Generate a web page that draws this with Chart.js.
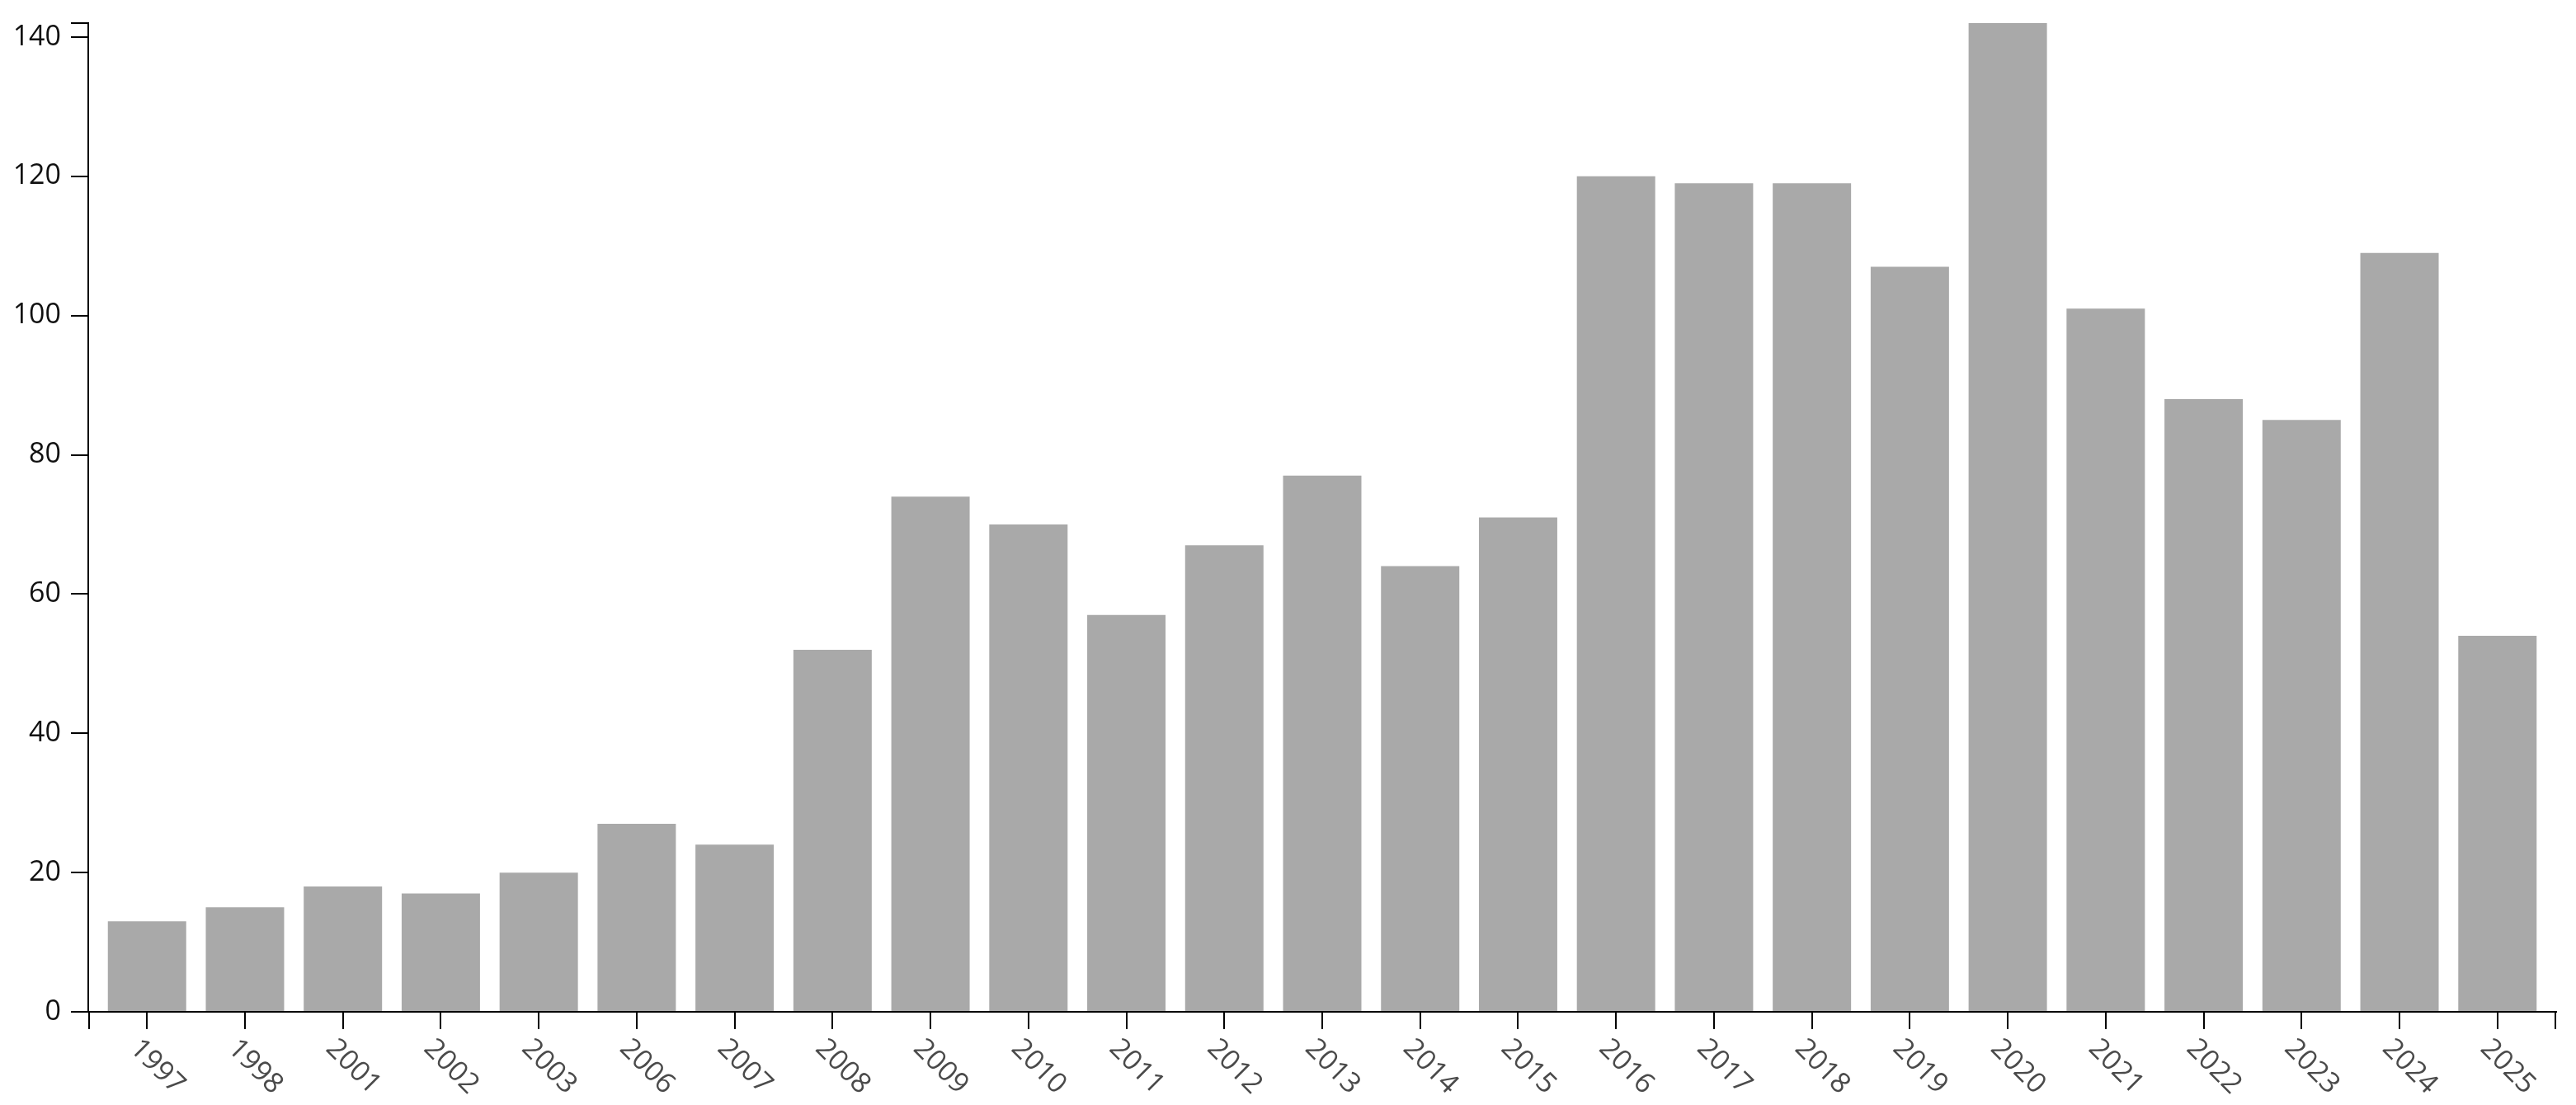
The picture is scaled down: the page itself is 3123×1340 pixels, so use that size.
<!DOCTYPE html>
<html>
<head>
<meta charset="utf-8">
<script src="https://cdn.jsdelivr.net/npm/chart.js@4.4.1/dist/chart.umd.min.js"></script>
<style>
    html, body { margin: 0; padding: 0; background: #fff; }
    #wrap { width: 3123px; height: 1340px; }
</style>
</head>
<body>
<div id="wrap"><canvas id="yearChart" width="3123" height="1340"></canvas></div>
<script>
const years = ['1997', '1998', '2001', '2002', '2003', '2006', '2007', '2008', '2009', '2010',
    '2011', '2012', '2013', '2014', '2015', '2016', '2017', '2018', '2019', '2020',
    '2021', '2022', '2023', '2024', '2025'];
const counts = [13, 15, 18, 17, 20, 27, 24, 52, 74, 70,
    57, 67, 77, 64, 71, 120, 119, 119, 107, 142,
    101, 88, 85, 109, 54];
const yTicks = [0, 20, 40, 60, 80, 100, 120, 140];
const yMax = 142;

const FONT = '"Open Sans", "Noto Sans", sans-serif';

// rotated year labels (+45deg, reading down-right) and the outer ticks of the x axis
const yearLabels = {
    id: 'yearLabels',
    afterDraw(chart) {
        const x = chart.scales.x;
        const ctx = chart.ctx;
        const base = x.top;
        ctx.save();
        ctx.strokeStyle = '#000';
        ctx.lineWidth = 2;
        ctx.beginPath();
        ctx.moveTo(x.left + 1, base);
        ctx.lineTo(x.left + 1, base + 21);
        ctx.moveTo(x.right - 1, base);
        ctx.lineTo(x.right - 1, base + 21);
        ctx.stroke();

        ctx.font = '34px ' + FONT;
        ctx.fillStyle = '#4a4a4a';
        ctx.textAlign = 'left';
        ctx.textBaseline = 'alphabetic';
        years.forEach((label, i) => {
            const px = x.getPixelForValue(i);
            ctx.save();
            ctx.translate(px - 22, base + 46);
            ctx.rotate(Math.PI / 4);
            ctx.fillText(label, 0, 0);
            ctx.restore();
        });
        ctx.restore();
    }
};

const ctx = document.getElementById('yearChart').getContext('2d');
const yearChart = new Chart(ctx, {
    type: 'bar',
    data: {
        datasets: [{
            data: counts.map((v, i) => ({ x: i, y: v })),
            backgroundColor: '#a9a9a9',
            borderWidth: 0,
            barPercentage: 0.8,
            categoryPercentage: 1.0
        }]
    },
    options: {
        responsive: false,
        animation: false,
        layout: { padding: { top: 28, right: 24, left: 0, bottom: 0 } },
        plugins: {
            legend: { display: false },
            tooltip: { enabled: false }
        },
        scales: {
            x: {
                type: 'linear',
                offset: false,
                min: -0.6,
                max: years.length - 0.4,
                afterFit: function(scale) { scale.height = 113; },
                border: { display: true, color: '#000', width: 2 },
                grid: {
                    display: true,
                    offset: false,
                    drawOnChartArea: false,
                    drawTicks: true,
                    tickLength: 21,
                    color: '#000',
                    lineWidth: 2
                },
                ticks: {
                    stepSize: 1,
                    includeBounds: false,
                    autoSkip: false,
                    maxRotation: 0,
                    minRotation: 0,
                    color: 'rgba(0,0,0,0)',
                    font: { size: 34, family: FONT },
                    callback: function(value) {
                        return years[value] !== undefined ? years[value] : '';
                    }
                }
            },
            y: {
                min: 0,
                max: yMax,
                afterFit: function(scale) {
                    scale.width = 107;
                    scale.paddingTop = 0;
                },
                afterBuildTicks: function(scale) {
                    scale.ticks = yTicks.map(v => ({ value: v })).concat([{ value: yMax }]);
                },
                border: { display: true, color: '#000', width: 2 },
                grid: {
                    display: true,
                    drawOnChartArea: false,
                    drawTicks: true,
                    tickLength: 21,
                    color: '#000',
                    lineWidth: 2
                },
                ticks: {
                    padding: 12,
                    color: '#111',
                    font: { size: 34, family: FONT },
                    callback: function(value) {
                        return yTicks.includes(value) ? String(value) : '';
                    }
                }
            }
        }
    },
    plugins: [yearLabels]
});
</script>
</body>
</html>
